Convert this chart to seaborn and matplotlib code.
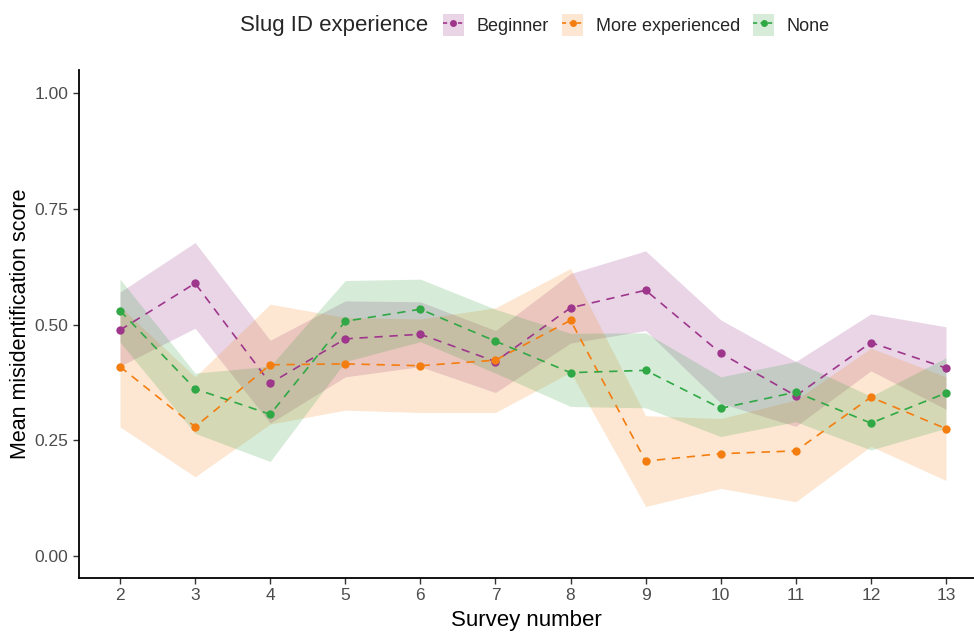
import numpy as np
import pandas as pd
import matplotlib
matplotlib.use("Agg")
import matplotlib.pyplot as plt
from matplotlib.patches import Patch
from matplotlib.lines import Line2D
import seaborn as sns

# ---------------- data ----------------
surveys = [2, 3, 4, 5, 6, 7, 8, 9, 10, 11, 12, 13]
groups = ["Beginner", "More experienced", "None"]

beginner_mean = [0.488, 0.589, 0.373, 0.469, 0.479, 0.420, 0.536, 0.574, 0.438, 0.346, 0.461, 0.406]
beginner_lo = [0.410, 0.492, 0.287, 0.387, 0.409, 0.353, 0.460, 0.487, 0.330, 0.280, 0.400, 0.317]
beginner_hi = [0.570, 0.677, 0.466, 0.551, 0.549, 0.487, 0.610, 0.659, 0.510, 0.420, 0.523, 0.495]

moreexp_mean = [0.409, 0.279, 0.413, 0.415, 0.411, 0.423, 0.509, 0.205, 0.221, 0.227, 0.343, 0.275]
moreexp_lo = [0.279, 0.171, 0.285, 0.315, 0.310, 0.310, 0.397, 0.107, 0.146, 0.117, 0.237, 0.163]
moreexp_hi = [0.539, 0.387, 0.544, 0.515, 0.512, 0.536, 0.621, 0.303, 0.297, 0.337, 0.449, 0.387]

none_mean = [0.530, 0.361, 0.306, 0.507, 0.533, 0.464, 0.396, 0.401, 0.319, 0.354, 0.287, 0.352]
none_lo = [0.462, 0.265, 0.204, 0.420, 0.463, 0.395, 0.323, 0.320, 0.258, 0.290, 0.229, 0.276]
none_hi = [0.598, 0.395, 0.410, 0.595, 0.598, 0.533, 0.481, 0.482, 0.387, 0.420, 0.345, 0.428]

y_ticks = [0.00, 0.25, 0.50, 0.75, 1.00]
y_ticklabels = ["0.00", "0.25", "0.50", "0.75", "1.00"]

colors = {"Beginner": "#9E368C", "More experienced": "#F47D0F", "None": "#2FA845"}
ribbon_colors = {"Beginner": "#912D82", "More experienced": "#F58A22", "None": "#33A03C"}

means = {"Beginner": beginner_mean, "More experienced": moreexp_mean, "None": none_mean}
los = {"Beginner": beginner_lo, "More experienced": moreexp_lo, "None": none_lo}
his = {"Beginner": beginner_hi, "More experienced": moreexp_hi, "None": none_hi}

df = pd.concat([
    pd.DataFrame({"Survey number": surveys, "mean": means[g], "lo": los[g], "hi": his[g], "group": g})
    for g in groups
], ignore_index=True)

# ---------------- style ----------------
sns.set_theme(style="white")
plt.rcParams["font.family"] = ["Liberation Sans", "DejaVu Sans"]

fig = plt.figure(figsize=(9.74, 6.34), dpi=100)
ax = fig.add_axes([79 / 974, 1 - 578 / 634, 1 - 79 / 974, (578 - 70) / 634])

ribbon_alpha = 0.2
for g in groups:
    sub = df[df["group"] == g]
    ax.fill_between(sub["Survey number"], sub["lo"], sub["hi"],
                    color=ribbon_colors[g], alpha=ribbon_alpha, linewidth=0, zorder=1)

sns.lineplot(data=df, x="Survey number", y="mean", hue="group", style="group",
             hue_order=groups, style_order=groups, palette=colors,
             dashes={g: (5, 4) for g in groups}, markers={g: "o" for g in groups},
             markersize=6, markeredgewidth=0, linewidth=1.2, legend=False, ax=ax, zorder=3)

ax.set_xlim(1.454, 13.373)
ax.set_ylim(-0.0475, 1.0497)
ax.set_xticks(surveys)
ax.set_xticklabels([str(s) for s in surveys])
ax.set_yticks(y_ticks)
ax.set_yticklabels(y_ticklabels)

ax.tick_params(axis="both", direction="out", length=4.5, width=1.0, color="#333333",
               labelcolor="#4D4D4D", labelsize=12.5, pad=3, bottom=True, left=True)

for side in ["top", "right"]:
    ax.spines[side].set_visible(False)
for side in ["left", "bottom"]:
    ax.spines[side].set_color("black")
    ax.spines[side].set_linewidth(1.3)

ax.set_xlabel("Survey number", fontsize=16, color="black", labelpad=5)
ax.set_ylabel("Mean misidentification score", fontsize=15.5, color="black", labelpad=3)
ax.grid(False)

# ---------------- legend ----------------
fig.text(240 / 974, 1 - 25 / 634, "Slug ID experience", fontsize=16, ha="left", va="center")
handles = []
for g in groups:
    handles.append((Patch(facecolor=ribbon_colors[g], alpha=ribbon_alpha, edgecolor="none"),
                    Line2D([], [], color=colors[g], linestyle=(0, (2.5, 2)), linewidth=1.2,
                           marker="o", markersize=5, markeredgewidth=0)))
fig.legend(handles, groups, ncol=3, loc="center left",
           bbox_to_anchor=(443 / 974, 1 - 25 / 634), frameon=False, fontsize=13,
           handlelength=1.15, handleheight=1.45, handletextpad=0.7, columnspacing=0.75,
           borderpad=0, borderaxespad=0)

fig.savefig("out.png", dpi=100)
